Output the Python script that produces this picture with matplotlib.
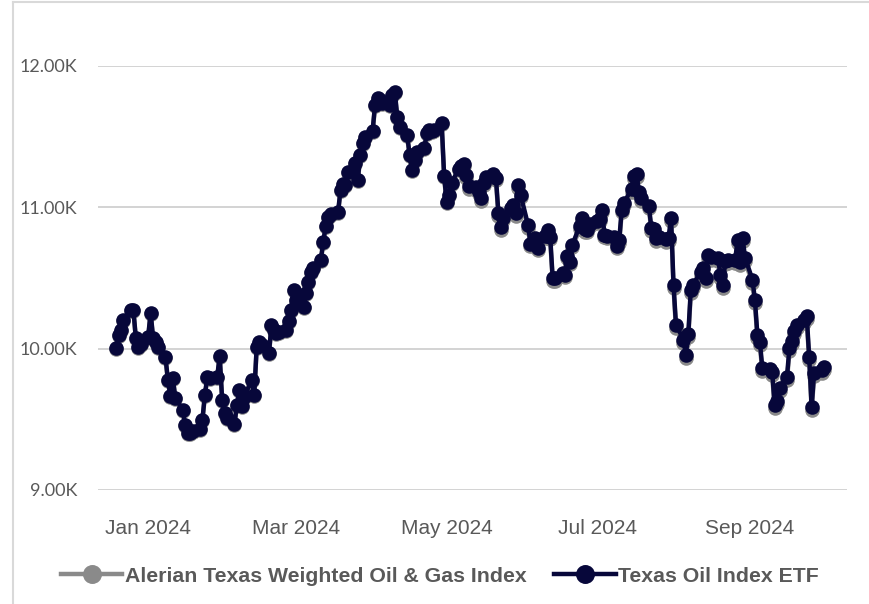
import pandas as pd
import matplotlib.pyplot as plt
import matplotlib.dates as mdates
from matplotlib.ticker import FuncFormatter
from matplotlib.lines import Line2D

# daily closes, business days from 2023-12-19
start_date = "2023-12-19"

etf_values = [
    10007, 10099, 10134, 10205, 10276, 10276, 10078, 10014, 10035, 10085,
    10255, 10078, 10050, 10014, 9943, 9781, 9667, 9795, 9653, 9568,
    9462, 9406, 9406, 9420, 9434, 9498, 9674, 9802, 9795, 9802,
    9950, 9639, 9547, 9512, 9469, 9604, 9710, 9597, 9660, 9781,
    9674, 10014, 10050, 10028, 9972, 10170, 10134, 10113, 10120, 10134,
    10198, 10276, 10417, 10347, 10297, 10396, 10474, 10545, 10573, 10630,
    10757, 10870, 10934, 10955, 10969, 11125, 11168, 11160, 11252, 11316,
    11196, 11373, 11458, 11500, 11543, 11727, 11776, 11762, 11741, 11727,
    11797, 11819, 11642, 11571, 11514, 11373, 11267, 11337, 11394, 11422,
    11528, 11550, 11543, 11550, 11599, 11224, 11040, 11090, 11175, 11274,
    11295, 11309, 11231, 11153, 11146, 11111, 11068, 11175, 11217, 11238,
    11210, 10962, 10863, 10927, 10998, 11019, 10962, 11160, 11090, 10877,
    10743, 10750, 10785, 10715, 10800, 10842, 10793, 10502, 10502, 10538,
    10524, 10658, 10616, 10736, 10870, 10927, 10849, 10842, 10885, 10906,
    10920, 10984, 10807, 10800, 10793, 10729, 10771, 10984, 11033, 11132,
    11224, 11238, 11111, 11068, 11012, 10856, 10849, 10785, 10793, 10778,
    10785, 10927, 10453, 10170, 10064, 9958, 10106, 10417, 10453, 10545,
    10573, 10502, 10665, 10651, 10644, 10524, 10453, 10623, 10630, 10630,
    10771, 10616, 10785, 10644, 10488, 10347, 10099, 10050, 9866, 9858,
    9837, 9604, 9632, 9724, 9802, 10007, 10057, 10127, 10170, 10205,
    10233, 9943, 9590, 9830, 9851, 9873,
]

index_values = [
    9999, 10091, 10126, 10197, 10268, 10268, 10070, 10006, 10027, 10077,
    10247, 10070, 10042, 10006, 9935, 9773, 9659, 9787, 9645, 9560,
    9454, 9398, 9398, 9412, 9426, 9490, 9666, 9794, 9787, 9794,
    9942, 9631, 9539, 9504, 9461, 9596, 9702, 9589, 9652, 9773,
    9666, 10002, 10038, 10016, 9960, 10158, 10122, 10101, 10108, 10122,
    10186, 10264, 10405, 10335, 10285, 10384, 10462, 10533, 10561, 10618,
    10745, 10858, 10922, 10943, 10957, 11113, 11156, 11148, 11240, 11304,
    11184, 11361, 11446, 11488, 11531, 11715, 11764, 11750, 11729, 11715,
    11785, 11807, 11630, 11559, 11502, 11361, 11255, 11325, 11382, 11410,
    11516, 11538, 11531, 11538, 11587, 11212, 11028, 11078, 11163, 11262,
    11283, 11289, 11211, 11133, 11126, 11091, 11048, 11155, 11197, 11218,
    11190, 10942, 10843, 10907, 10978, 10999, 10942, 11140, 11070, 10857,
    10723, 10730, 10765, 10695, 10780, 10822, 10773, 10482, 10482, 10518,
    10504, 10638, 10596, 10716, 10850, 10907, 10829, 10822, 10865, 10886,
    10900, 10964, 10787, 10780, 10773, 10709, 10751, 10964, 11013, 11112,
    11204, 11218, 11091, 11048, 10992, 10836, 10829, 10765, 10773, 10758,
    10765, 10902, 10428, 10145, 10039, 9933, 10081, 10392, 10428, 10520,
    10548, 10477, 10640, 10626, 10619, 10499, 10428, 10598, 10605, 10605,
    10746, 10591, 10760, 10619, 10463, 10322, 10074, 10025, 9841, 9833,
    9812, 9579, 9607, 9699, 9777, 9982, 10032, 10102, 10145, 10180,
    10208, 9918, 9565, 9805, 9826, 9848,
]

series_names = ["Alerian Texas Weighted Oil & Gas Index", "Texas Oil Index ETF"]
series_colors = ["#8a8a8a", "#07073a"]

dates = pd.bdate_range(start_date, periods=len(etf_values))

W, H = 869, 604
fig = plt.figure(figsize=(W / 100, H / 100), dpi=100)

# frame of the surrounding card (left and top edges only visible)
fig.add_artist(Line2D([12.5 / W, 12.5 / W], [0, 1 - 2 / H], color="#d9d9d9", lw=1.5))
fig.add_artist(Line2D([12.5 / W, 1], [1 - 2 / H, 1 - 2 / H], color="#d9d9d9", lw=1.5))

left, right, top, bottom = 98, 847, 66, 490
ax = fig.add_axes([left / W, 1 - bottom / H, (right - left) / W, (bottom - top) / H])

for vals, name, col in [(index_values, series_names[0], series_colors[0]),
                        (etf_values, series_names[1], series_colors[1])]:
    ax.plot(dates, vals, color=col, lw=3.2, marker="o", markersize=10.5,
            markeredgewidth=0, label=name, clip_on=False)

ax.set_ylim(9000, 12000)
ax.set_yticks([9000, 10000, 11000, 12000])
ax.yaxis.set_major_formatter(FuncFormatter(lambda v, p: f"{v / 1000:.2f}K"))
ax.set_xlim(pd.Timestamp("2023-12-11 16:00"), pd.Timestamp("2024-10-10 08:00"))
ax.xaxis.set_major_locator(mdates.MonthLocator(bymonth=[1, 3, 5, 7, 9]))
ax.xaxis.set_major_formatter(mdates.DateFormatter("%b %Y"))

ax.grid(axis="y", color="#d0d0d0", lw=1.3)
ax.set_axisbelow(True)
for s in ax.spines.values():
    s.set_visible(False)
ax.tick_params(axis="both", length=0)
ax.tick_params(axis="y", pad=15, labelcolor="#595959")
ax.tick_params(axis="x", pad=21, labelcolor="#595959")
for lab in ax.get_yticklabels():
    lab.set_family(["Lato", "DejaVu Sans"])
    lab.set_fontsize(13)
for lab in ax.get_xticklabels():
    lab.set_family(["Liberation Sans", "DejaVu Sans"])
    lab.set_fontsize(15)

leg = fig.legend(loc="center", bbox_to_anchor=(440 / W, 1 - 576 / H), ncol=2,
                 frameon=False, handlelength=2.9, handletextpad=0.12,
                 columnspacing=1.3, markerscale=1.3,
                 prop={"family": ["Liberation Sans", "DejaVu Sans"],
                       "weight": "bold", "size": 15.3})
for t in leg.get_texts():
    t.set_color("#595959")

fig.savefig("out.png", dpi=100)
